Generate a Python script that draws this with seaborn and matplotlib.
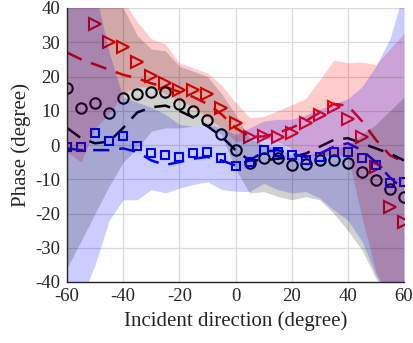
import numpy as np
import pandas as pd
import matplotlib
matplotlib.use("Agg")
import matplotlib.pyplot as plt
import seaborn as sns

nan = np.nan
angles = list(range(-60, 61, 5))

# measured markers
red_tri = [nan, nan, 35.3, 30.1, 28.7, 24.3, 20.1, 18.2, 16.0, 16.0, 14.8, 10.9, 6.3, 2.4, 2.5, 2.4, 3.5, 6.3, 8.7, 11.2, 7.6, 2.4, -6.3, -18.0, -22.5]
black_circ = [16.5, 10.7, 12.2, 9.4, 13.6, 14.9, 15.5, 15.5, 12.0, 9.8, 7.3, 3.2, -1.5, -5.3, -3.9, -3.9, -5.8, -5.5, -4.4, -4.4, -5.3, -7.9, -10.3, -12.8, -15.1]
blue_sq = [-0.5, -0.5, 3.6, 1.3, 2.6, -0.3, -2.2, -2.9, -3.5, -2.2, -2.1, -3.8, -6.0, -5.0, -1.4, -2.0, -2.9, -4.4, -3.4, -2.0, -2.0, -3.7, -5.8, -11.2, -10.7]

# dashed curves
red_fit = [27, 25, 23.5, 22, 20.5, 19.5, 18, 17, 15.5, 14, 12, 9, 5, 2.5, 2.5, 3.5, 5, 7, 9.5, 12, 11.5, 7, 1.5, -3, -5]
black_fit = [5, 2, 0.5, 1, 5, 9.5, 11, 11.5, 10, 8, 5.5, 2.5, -1.5, -4.5, -4.5, -4, -3.5, -2.5, -0.5, 1.5, 2, 0.5, -1, -2.5, -4.5]
blue_fit = [-1, -1.5, -1.5, -1.5, -1, -2, -4.5, -5.8, -5, -4, -3.5, -4.5, -6, -4.5, -2, -1.5, -2.5, -3.5, -2.5, -0.5, 0.5, -1.5, -5, -9.5, -13]

# spread bands
red_lo = [-2, -5, 5, 9, 15, 17, 17, 15, 13, 11, 8, 5, 1, 1.5, 2, 1, -1, -3, -3, -3, -3, -21, -37, -45, -45]
red_hi = [45, 45, 45, 44, 42, 36, 31, 29.5, 24, 22.5, 21, 17.5, 12.5, 8, 8.3, 10, 11.8, 13.6, 19, 24.8, 24, 24.2, 23.5, 28, 32.6]
blue_lo = [-45, -45, -35, -22, -16, -16, -13, -14, -12.6, -11.5, -10.7, -13, -13.5, -13.6, -11.2, -13, -14, -13.6, -15.5, -19, -22, -28, -38, -45, -45]
blue_hi = [45, 45, 45, 27, 14, 12.5, 11, 9, 6, 5.5, 6, 5, 3, 5, 7, 7.5, 7.5, 8.8, 10.5, 12, 13.5, 17, 23, 31, 45]
gray_lo = [-36, -28, -20, -12, -5, -1, 4, 5, 5, 5.5, 6, 3, -7, -14, -13.6, -15, -16, -15.1, -16, -20, -25, -30.6, -39, -45, -45]
gray_hi = [45, 45, 45, 45, 40, 32, 28, 27.5, 23, 21.5, 20, 15, 9, 2, 0, -1, -3, -3, -2, -1, 0, 3, 6, 10, 14]

xticks = [-60, -40, -20, 0, 20, 40, 60]
yticks = [-40, -30, -20, -10, 0, 10, 20, 30, 40]

df = pd.DataFrame({"angle": angles, "red_tri": red_tri, "black_circ": black_circ,
                   "blue_sq": blue_sq, "red_fit": red_fit, "black_fit": black_fit,
                   "blue_fit": blue_fit})

sns.set_style("white")
plt.rcParams["font.family"] = ["Liberation Serif", "DejaVu Serif"]

fig = plt.figure(figsize=(4.13, 3.43), dpi=100)
ax = fig.add_axes([67/413, 1-282/343, (404-67)/413, (282-8)/343])

dash = (0, (6.5, 4))
lw = 1.8
sns.lineplot(data=df, x="angle", y="red_fit", ax=ax, color="red", lw=lw, ls=dash, zorder=2)
sns.lineplot(data=df, x="angle", y="black_fit", ax=ax, color="black", lw=lw, ls=dash, zorder=2)
sns.lineplot(data=df, x="angle", y="blue_fit", ax=ax, color="blue", lw=lw, ls=dash, zorder=2)

mk = dict(ls="", mew=1.5, mfc="none", zorder=2.2)
sns.lineplot(data=df.dropna(subset=["red_tri"]), x="angle", y="red_tri", ax=ax, marker=">", ms=8.5, mec="red", color="red", **mk)
sns.lineplot(data=df, x="angle", y="black_circ", ax=ax, marker="o", ms=7.5, mec="black", color="black", **mk)
sns.lineplot(data=df, x="angle", y="blue_sq", ax=ax, marker="s", ms=6.2, mec="blue", color="blue", **mk)

ax.fill_between(angles, red_lo, red_hi, color="red", alpha=0.2, lw=0, zorder=3)
ax.fill_between(angles, blue_lo, blue_hi, color="blue", alpha=0.2, lw=0, zorder=3)
ax.fill_between(angles, gray_lo, gray_hi, color="black", alpha=0.18, lw=0, zorder=3)

ax.set_xlim(-60, 60)
ax.set_ylim(-40, 40)
ax.set_xticks(xticks)
ax.set_yticks(yticks)
ax.set_xticklabels([str(v) for v in xticks])
ax.set_yticklabels([str(v) for v in yticks])
ax.grid(True, color="#d9d9d9", lw=0.9, zorder=0)
ax.set_axisbelow(True)
for s in ["top", "right"]:
    ax.spines[s].set_visible(False)
for s in ["left", "bottom"]:
    ax.spines[s].set_color("#262626")
    ax.spines[s].set_linewidth(1.0)
    ax.spines[s].set_zorder(5)
ax.tick_params(direction="in", length=4, width=0.8, colors="#262626", labelsize=13.5, pad=5)
ax.tick_params(axis="x", pad=4)
ax.set_xlabel("Incident direction (degree)", fontsize=15, color="#262626", labelpad=5)
ax.set_ylabel("Phase (degree)", fontsize=15, color="#262626", labelpad=3)
ax.set_facecolor("white")

fig.savefig("out.png", dpi=100)
